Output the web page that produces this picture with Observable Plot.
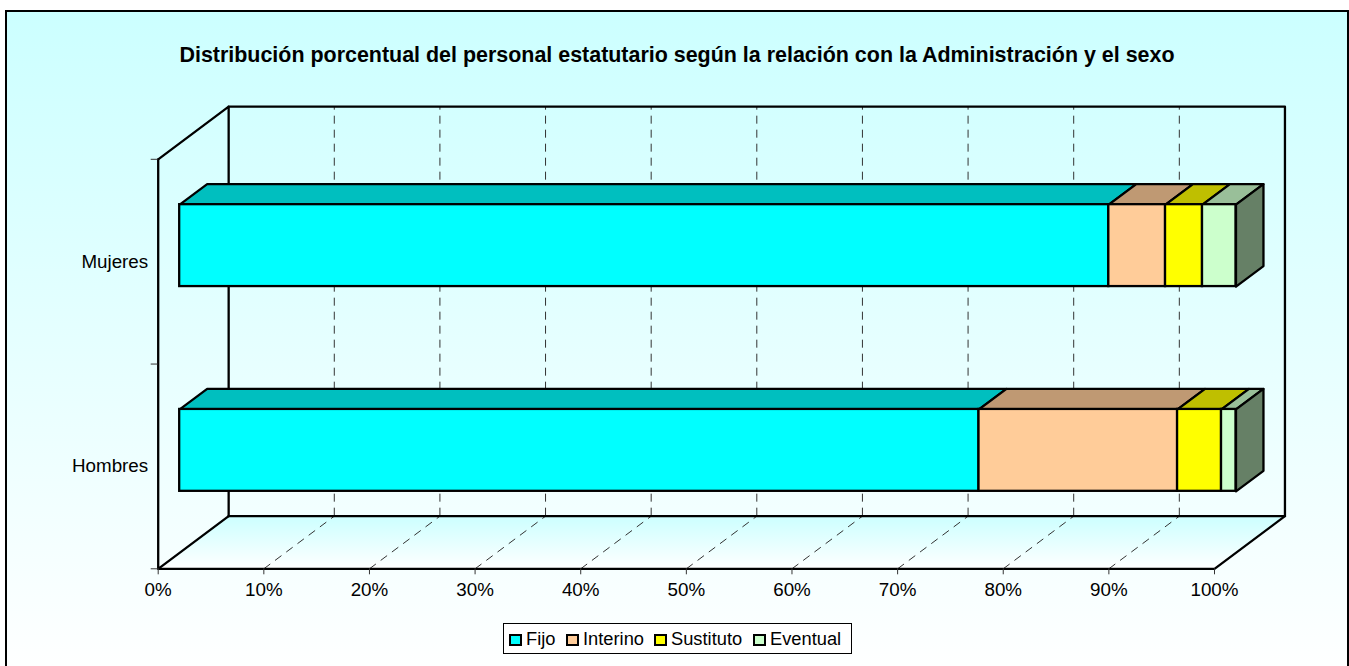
<!DOCTYPE html>
<html lang="es">
<head>
<meta charset="utf-8">
<title>Distribución porcentual del personal estatutario</title>
<script src="https://cdn.jsdelivr.net/npm/d3@7"></script>
<script src="https://cdn.jsdelivr.net/npm/@observablehq/plot@0.6"></script>
<style>
  html, body { margin: 0; padding: 0; background: #fff; overflow: hidden; }
  body { width: 1349px; height: 666px; position: relative; font-family: "Liberation Sans", Arial, sans-serif; color: #000; }
  #frame { position: absolute; left: 5px; top: 10px; width: 1344px; height: 670px; box-sizing: border-box; border: 2px solid #000;
           background: linear-gradient(to bottom, #CCFFFF 0%, #FFFFFF 100%); }
  #title { position: absolute; left: 5px; width: 1344px; top: 43px; text-align: center; font-weight: bold; font-size: 21.45px; line-height: 24px; white-space: nowrap; }
  #chart { position: absolute; left: 0; top: 0; }
  #chart svg { background: transparent; display: block; }
  #legend { position: absolute; left: 503px; top: 623px; width: 349px; height: 31px; box-sizing: border-box; border: 1px solid #000; background: #fff;
            font-size: 18.3px; line-height: 29px; }
  #legend span.item { position: absolute; top: 0; white-space: nowrap; }
  #legend i { display: inline-block; box-sizing: border-box; width: 13px; height: 12px; border: 2px solid #000; margin-right: 4px; vertical-align: -1px; }
</style>
</head>
<body>
<div id="frame"></div>
<div id="title">Distribución porcentual del personal estatutario según la relación con la Administración y el sexo</div>
<div id="chart"></div>
<div id="legend"></div>
<script>
const categories = ["Hombres", "Mujeres"];
const series = ["Fijo", "Interino", "Sustituto", "Eventual"];
const fijo = [75.67, 87.96];
const interino = [18.8, 5.37];
const sustituto = [4.16, 3.5];
const eventual = [1.37, 3.17];
const frontColors = ["#00FFFF", "#FFCC99", "#FFFF00", "#CCFFCC"];
const topColors = ["#00BFBF", "#BF9973", "#BFBF00", "#99BF99"];
const sideColor = "#668066";
const xTicks = [0, 10, 20, 30, 40, 50, 60, 70, 80, 90, 100];
const gridTicks = [10, 20, 30, 40, 50, 60, 70, 80, 90];
const yEdges = [0, 1, 2];
const yCenters = [0.5, 1.5];

// Oblique depth of the 3-D box, in data units of each scale per unit of depth
const depthX = 6.67, depthY = 0.257;
const zFront = 0.305, zBack = 0.695, halfBar = 0.2;
const px = (x, z) => x + depthX * z;
const py = (y, z) => y + depthY * z;

const values = [fijo, interino, sustituto, eventual];
const fronts = [], faces = [];
categories.forEach((cat, c) => {
  let start = 0;
  const yc = yCenters[c];
  const yLo = yc - halfBar, yHi = yc + halfBar;
  series.forEach((s, i) => {
    const end = start + values[i][c];
    fronts.push({x1: px(start, zFront), x2: px(end, zFront), y1: py(yLo, zFront), y2: py(yHi, zFront), color: frontColors[i]});
    [[start, zFront], [end, zFront], [end, zBack], [start, zBack]].forEach(([x, z]) =>
      faces.push({id: cat + s, x: px(x, z), y: py(yHi, z), color: topColors[i]}));
    start = end;
  });
  [[yLo, zFront], [yHi, zFront], [yHi, zBack], [yLo, zBack]].forEach(([y, z]) =>
    faces.push({id: cat + "side", x: px(start, z), y: py(y, z), color: sideColor}));
});

const floor = [[0, 0], [100, 0], [100, 1], [0, 1]].map(([x, z]) => ({x: px(x, z), y: py(0, z)}));
const wallLines = [
  [[0, 2, 0], [0, 0, 0], [px(0, 1), py(0, 1), 0]],
  [[0, 2, 0], [px(0, 1), py(2, 1), 0], [px(0, 1), py(0, 1), 0]],
  [[px(0, 1), py(2, 1), 0], [px(100, 1), py(2, 1), 0], [px(100, 1), py(0, 1), 0], [px(0, 1), py(0, 1), 0]],
  [[px(100, 1), py(0, 1), 0], [100, 0, 0], [0, 0, 0]]
].flatMap((pts, id) => pts.map(([x, y]) => ({id, x, y})));

const defs = () => {
  const d = d3.create("svg:defs");
  const g = d.append("linearGradient").attr("id", "floorGrad").attr("x1", 0).attr("y1", 0).attr("x2", 0).attr("y2", 1);
  g.append("stop").attr("offset", "0%").attr("stop-color", "#CCFFFF");
  g.append("stop").attr("offset", "100%").attr("stop-color", "#FFFFFF");
  return d.node();
};

const chart = Plot.plot({
  width: 1349,
  height: 666,
  marginLeft: 157.7,
  marginRight: 135,
  marginTop: 158.8,
  marginBottom: 97.7,
  style: {background: "transparent", fontFamily: "'Liberation Sans', Arial, sans-serif", color: "#000", overflow: "visible"},
  x: {domain: [0, 100], label: null},
  y: {domain: [0, 2], label: null},
  color: {type: "identity"},
  marks: [
    defs,
    Plot.line(floor, {x: "x", y: "y", fill: "url(#floorGrad)", stroke: "none", curve: "linear-closed"}),
    Plot.ruleX(gridTicks, {x: d => px(d, 1), y1: py(0, 1), y2: py(2, 1), stroke: "#333", strokeWidth: 1, strokeDasharray: "8,6"}),
    Plot.link(gridTicks, {x1: d => d, y1: 0, x2: d => px(d, 1), y2: py(0, 1), stroke: "#333", strokeWidth: 1, strokeDasharray: "8,6"}),
    Plot.line(wallLines, {x: "x", y: "y", z: "id", stroke: "#000", strokeWidth: 2.3}),
    Plot.axisX({ticks: xTicks, tickFormat: d => d + "%", tickSize: 6, tickPadding: 8, fontSize: 18.8, stroke: "#333", label: null}),
    Plot.axisY({ticks: yEdges, tickFormat: () => "", tickSize: 7, stroke: "#333", label: null}),
    Plot.axisY({ticks: yCenters, tickFormat: d => categories[yCenters.indexOf(d)], tickSize: 0, tickPadding: 10, fontSize: 18.8, label: null}),
    Plot.line(faces, {x: "x", y: "y", z: "id", fill: "color", stroke: "#000", strokeWidth: 2.3, curve: "linear-closed"}),
    Plot.rect(fronts, {x1: "x1", x2: "x2", y1: "y1", y2: "y2", fill: "color", stroke: "#000", strokeWidth: 2.3})
  ]
});
document.getElementById("chart").append(chart);

const legend = d3.select("#legend");
const legendLeft = [5, 62, 150, 249];
series.forEach((s, i) => {
  const item = legend.append("span").attr("class", "item").style("left", legendLeft[i] + "px");
  item.append("i").style("background", frontColors[i]);
  item.append("span").text(s);
});
</script>
</body>
</html>
